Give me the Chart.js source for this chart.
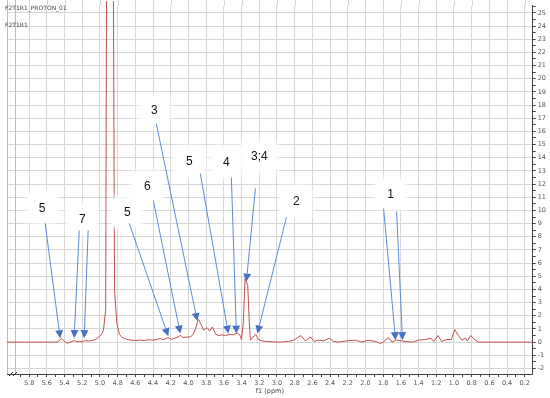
<!DOCTYPE html>
<html>
<head>
<meta charset="utf-8">
<script src="https://cdn.jsdelivr.net/npm/chart.js@4/dist/chart.umd.min.js"></script>
<style>
  html, body { margin: 0; padding: 0; background: #fff; }
  canvas { display: block; }
</style>
</head>
<body>
<canvas id="myCanvas" width="550" height="398"></canvas>
<script>
// spectrum (ppm, intensity)
const ppm = [6.05, 5.50, 5.47, 5.44, 5.40, 5.37, 5.33, 5.29, 5.26, 5.23, 5.20, 5.17, 5.13, 5.09, 5.05, 5.02, 4.98, 4.96,
  4.935, 4.92, 4.90, 4.87, 4.855, 4.835, 4.81, 4.78, 4.75, 4.70, 4.65, 4.60, 4.55, 4.50, 4.45, 4.40, 4.35, 4.32, 4.29,
  4.26, 4.23, 4.19, 4.16, 4.13, 4.09, 4.06, 4.02, 3.98, 3.95, 3.92, 3.89, 3.86, 3.83, 3.79, 3.76, 3.73, 3.69, 3.66,
  3.62, 3.58, 3.53, 3.49, 3.45, 3.42, 3.40, 3.38, 3.36, 3.33, 3.31, 3.30, 3.28, 3.24, 3.21, 3.17, 3.13, 3.05, 2.96,
  2.87, 2.81, 2.73, 2.68, 2.62, 2.58, 2.53, 2.47, 2.41, 2.36, 2.30, 2.21, 2.11, 2.04, 1.97, 1.89, 1.83, 1.80, 1.74,
  1.70, 1.65, 1.60, 1.55, 1.47, 1.40, 1.32, 1.26, 1.23, 1.18, 1.14, 1.08, 1.03, 0.99, 0.95, 0.91, 0.87, 0.85, 0.81,
  0.77, 0.72, 0.11];
const intensity = [0, 0, 0.02, 0.28, 0.05, -0.08, 0, 0.12, 0.02, 0.06, 0.02, 0.12, 0.08, 0.12, 0.2, 0.35, 0.6, 0.9,
  2.5, 40, 300, 300, 40, 4, 1.5, 0.6, 0.35, 0.22, 0.15, 0.12, 0.15, 0.12, 0.18, 0.15, 0.2, 0.28, 0.18,
  0.25, 0.35, 0.2, 0.3, 0.35, 0.5, 0.35, 0.38, 0.4, 0.55, 1.0, 1.75, 1.4, 0.9, 1.1, 0.85, 1.15, 0.6, 0.5,
  0.55, 0.5, 0.6, 0.55, 0.7, 0.55, 0.2, 1.5, 4.85, 4.3, 1.15, 0.15, 0.3, 0.6, 0.2, 0.1, 0.05, 0.02, 0,
  0.05, 0.15, 0.5, 0.1, 0.4, 0.05, 0.15, 0.1, 0.3, 0.05, 0, 0.1, 0.15, 0, 0.15, 0.05, -0.1, 0, 0.35,
  0, 0.15, 0.1, 0.05, 0, 0.15, 0.2, 0.3, 0.05, 0.5, 0.05, 0.2, 0.2, 0.95, 0.5, 0.15, 0.3, 0.1, 0.5,
  0.2, 0, 0];

// annotation labels (text, ppm, intensity of label centre)
const labelText = ['5', '7', '5', '6', '3', '5', '4', '3;4', '2', '1'];
const labelPpm = [5.653, 5.200, 4.691, 4.465, 4.386, 3.990, 3.571, 3.198, 2.780, 1.716];
const labelInt = [10.15, 9.32, 9.85, 11.82, 17.58, 13.71, 13.64, 14.09, 10.68, 11.21];

// arrows: [from ppm, from intensity, to ppm, to intensity]
const arrows = [
  [5.619, 9.02, 5.449, 0.3],
  [5.234, 8.48, 5.291, 0.3],
  [5.133, 8.48, 5.178, 0.3],
  [4.669, 9.02, 4.228, 0.45],
  [4.397, 10.76, 4.092, 0.65],
  [4.363, 16.59, 3.900, 1.6],
  [3.866, 12.80, 3.549, 0.65],
  [3.515, 12.50, 3.458, 0.65],
  [3.243, 11.67, 3.345, 4.6],
  [2.893, 9.47, 3.221, 0.65],
  [1.795, 10.15, 1.660, 0.15],
  [1.648, 9.92, 1.581, 0.15]
];

const X_MIN = 0.11, X_MAX = 6.05;
const Y_MIN = -2.42, Y_MAX = 25.53;

const tickFont = { family: 'DejaVu Sans', size: 6.5 };
const gridColor = '#d6d6d6';
const isEven = v => Math.abs(Math.round(v * 10)) % 2 === 0;
const isInt = v => Math.abs(v - Math.round(v)) < 1e-6;

const overlay = {
  id: 'overlay',
  beforeDatasetsDraw(chart) {
    const ctx = chart.ctx, xs = chart.scales.x, a = chart.chartArea;
    ctx.save();
    ctx.strokeStyle = gridColor;
    ctx.lineWidth = 1;
    // vertical grid continues above the plot top
    xs.ticks.forEach(t => {
      if (!isEven(t.value)) return;
      const x = Math.round(xs.getPixelForValue(t.value)) + 0.5;
      ctx.beginPath(); ctx.moveTo(x, 0); ctx.lineTo(x, a.top); ctx.stroke();
    });
    ctx.strokeStyle = '#bdbdbd';
    [a.left + 0.5, a.left + 8.5].forEach(x => {
      ctx.beginPath(); ctx.moveTo(x, 0); ctx.lineTo(x, a.bottom); ctx.stroke();
    });
    ctx.restore();
  },
  afterDraw(chart) {
    const ctx = chart.ctx, xs = chart.scales.x, ys = chart.scales.y, a = chart.chartArea;
    ctx.save();
    // axis break
    ctx.strokeStyle = '#333';
    ctx.lineWidth = 1;
    [a.left + 4, a.left + 8].forEach(x => {
      ctx.beginPath(); ctx.moveTo(x - 2, a.bottom + 2); ctx.lineTo(x + 2, a.bottom - 2); ctx.stroke();
    });
    // header texts
    ctx.fillStyle = '#444';
    ctx.font = '6px "DejaVu Sans"';
    ctx.textBaseline = 'middle';
    ctx.fillText('F2T1R1_PROTON_01', 5, 8);
    ctx.fillText('F2T1R1', 5, 25);

    // white label bubbles
    labelText.forEach((t, i) => {
      const cx = xs.getPixelForValue(labelPpm[i]), cy = ys.getPixelForValue(labelInt[i]);
      const w = t.length > 1 ? 34 : 28;
      ctx.save();
      ctx.fillStyle = '#fff';
      ctx.shadowColor = '#fff';
      ctx.shadowBlur = 8;
      ctx.fillRect(cx - w / 2, cy - 14, w, 28);
      ctx.fillRect(cx - w / 2, cy - 14, w, 28);
      ctx.restore();
    });
    labelText.forEach((t, i) => {
      const cx = xs.getPixelForValue(labelPpm[i]), cy = ys.getPixelForValue(labelInt[i]);
      ctx.fillStyle = '#111';
      ctx.font = '12px "Liberation Sans"';
      ctx.textAlign = 'center';
      ctx.textBaseline = 'middle';
      ctx.fillText(t, cx, cy);
    });

    // arrows
    ctx.strokeStyle = '#5b8bd6';
    ctx.fillStyle = '#4472c4';
    arrows.forEach(([p0, i0, p1, i1]) => {
      const x0 = xs.getPixelForValue(p0), y0 = ys.getPixelForValue(i0);
      const x1 = xs.getPixelForValue(p1), y1 = ys.getPixelForValue(i1);
      const ang = Math.atan2(y1 - y0, x1 - x0);
      const L = 8, W = 4;
      const bx = x1 - L * Math.cos(ang), by = y1 - L * Math.sin(ang);
      ctx.beginPath(); ctx.moveTo(x0, y0); ctx.lineTo(bx, by); ctx.stroke();
      ctx.beginPath();
      ctx.moveTo(x1, y1);
      ctx.lineTo(bx + W * Math.sin(ang), by - W * Math.cos(ang));
      ctx.lineTo(bx - W * Math.sin(ang), by + W * Math.cos(ang));
      ctx.closePath();
      ctx.fill();
    });
    ctx.restore();
  }
};

new Chart(document.getElementById('myCanvas').getContext('2d'), {
  type: 'line',
  data: {
    datasets: [{
      data: ppm.map((p, i) => ({ x: p, y: intensity[i] })),
      borderColor: '#c0504d',
      borderWidth: 1,
      pointRadius: 0,
      tension: 0,
      fill: false,
      clip: { left: 0, top: 5, right: 0, bottom: 0 }
    }]
  },
  options: {
    responsive: false,
    animation: false,
    layout: { padding: { left: 7, right: 2, top: 5, bottom: 0 } },
    plugins: { legend: { display: false }, tooltip: { enabled: false } },
    scales: {
      x: {
        type: 'linear',
        reverse: true,
        min: X_MIN,
        max: X_MAX,
        afterBuildTicks: ax => { ax.ticks = ax.ticks.filter(t => t.value <= 5.95); },
        afterFit: ax => { ax.height = 24; },
        ticks: {
          stepSize: 0.1, includeBounds: false, autoSkip: false, maxRotation: 0, minRotation: 0,
          font: tickFont, color: '#555', padding: 2,
          callback: v => isEven(v) ? v.toFixed(1) : ''
        },
        grid: {
          color: c => isEven(c.tick.value) ? gridColor : 'rgba(0,0,0,0)',
          tickColor: '#444', tickLength: 3
        },
        border: { color: '#444' },
        title: { display: true, text: 'f1 (ppm)', font: tickFont, color: '#444', padding: { top: 0, bottom: 3 } }
      },
      y: {
        position: 'right',
        min: Y_MIN,
        max: Y_MAX,
        ticks: {
          stepSize: 0.5, includeBounds: false, autoSkip: false,
          font: tickFont, color: '#555', padding: 2,
          callback: v => isInt(v) ? String(Math.round(v)) : ''
        },
        grid: {
          color: c => isInt(c.tick.value) ? gridColor : 'rgba(0,0,0,0)',
          tickColor: '#444', tickLength: 3
        },
        border: { color: '#444' }
      }
    }
  },
  plugins: [overlay]
});
</script>
</body>
</html>
